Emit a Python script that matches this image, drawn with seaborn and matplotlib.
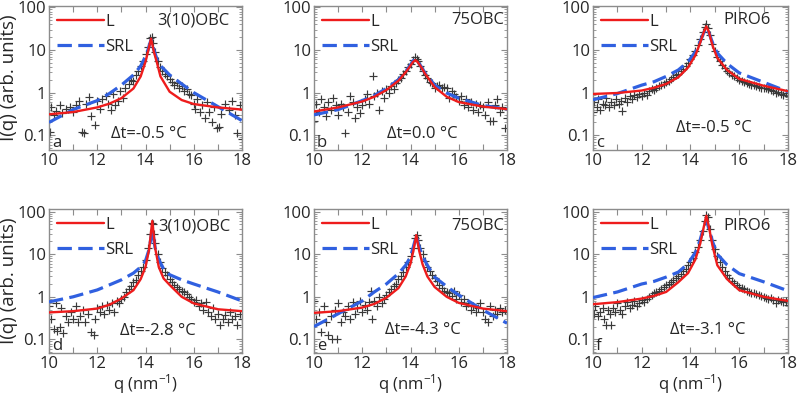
import matplotlib
matplotlib.use('Agg')
import matplotlib.pyplot as plt
import matplotlib.ticker as mticker
import seaborn as sns

# ---- scattered data points ----
q_pts_a = [10.05, 10.1, 10.2, 10.3, 10.45, 10.55, 10.7, 10.85, 11.0, 11.1, 11.25, 11.35, 11.45, 11.55, 11.65,
           11.75, 11.9, 12.0, 12.1, 12.2, 12.35, 12.45, 12.55, 12.65, 12.75, 12.85, 12.95, 13.05, 13.15, 13.3,
           13.4, 13.5, 13.6, 13.7, 13.8, 13.9, 14.0, 14.1, 14.2, 14.25, 14.3, 14.4, 14.5, 14.6, 14.7, 14.8,
           14.9, 15.0, 15.1, 15.2, 15.3, 15.4, 15.5, 15.6, 15.7, 15.8, 15.9, 16.0, 16.05, 16.15, 16.25, 16.35,
           16.45, 16.55, 16.65, 16.75, 16.85, 16.95, 17.05, 17.15, 17.3, 17.45, 17.6, 17.7, 17.8, 17.9, 18.0]
I_pts_a = [0.12, 0.45, 0.3, 0.38, 0.5, 0.33, 0.42, 0.46, 0.36, 0.52, 0.62, 0.12, 0.11, 0.55, 0.8,
           0.28, 0.17, 0.65, 0.42, 0.72, 0.85, 0.55, 0.4, 0.95, 0.5, 0.62, 1.1, 0.75, 1.3, 1.6,
           2.0, 1.9, 2.6, 3.2, 4.2, 5.5, 8.0, 12.0, 19.0, 20.0, 15.0, 9.0, 5.5, 4.0, 3.2, 2.8,
           2.4, 2.1, 1.8, 1.5, 1.7, 1.3, 1.4, 1.1, 1.2, 0.95, 0.9, 0.55, 0.42, 0.7, 0.35, 0.5,
           0.25, 0.6, 0.35, 0.2, 0.45, 0.15, 0.16, 0.32, 0.55, 0.4, 0.65, 0.3, 0.11, 0.5, 0.08]

q_pts_b = [10.0, 10.1, 10.2, 10.3, 10.4, 10.5, 10.6, 10.7, 10.8, 10.9, 11.0, 11.1, 11.2, 11.3, 11.4, 11.5,
           11.6, 11.7, 11.8, 11.9, 12.0, 12.1, 12.2, 12.3, 12.45, 12.5, 12.6, 12.7, 12.8, 12.9, 13.0, 13.1,
           13.2, 13.3, 13.4, 13.5, 13.6, 13.7, 13.8, 13.9, 14.0, 14.1, 14.2, 14.25, 14.3, 14.4, 14.5, 14.6,
           14.7, 14.8, 14.9, 15.0, 15.1, 15.2, 15.3, 15.4, 15.5, 15.6, 15.7, 15.8, 15.9, 16.0, 16.1, 16.2,
           16.3, 16.4, 16.5, 16.6, 16.7, 16.8, 16.9, 17.0, 17.1, 17.2, 17.3, 17.4, 17.5, 17.6, 17.7, 17.8,
           17.9, 18.0]
I_pts_b = [0.22, 0.55, 0.35, 0.7, 0.45, 0.28, 0.6, 0.4, 0.75, 0.5, 0.3, 0.55, 0.45, 0.11, 0.35, 0.85,
           0.6, 0.25, 0.45, 0.33, 0.5, 0.7, 0.95, 0.55, 2.4, 0.85, 1.0, 0.4, 1.1, 0.75, 1.2, 1.0,
           1.4, 1.2, 1.7, 2.0, 2.2, 2.8, 3.3, 4.0, 4.8, 5.8, 6.8, 6.2, 5.5, 4.2, 3.3, 2.6,
           2.2, 1.8, 1.7, 1.3, 1.4, 1.5, 1.3, 1.35, 1.25, 0.75, 1.1, 0.95, 0.8, 0.65, 0.85, 0.5,
           0.7, 0.45, 0.6, 0.4, 0.55, 0.35, 0.5, 0.45, 0.3, 0.6, 0.22, 0.22, 0.5, 0.7, 0.35, 0.45,
           0.15, 0.25]

q_pts_c = [10.0, 10.05, 10.15, 10.2, 10.3, 10.4, 10.5, 10.55, 10.65, 10.75, 10.85, 10.95, 11.05, 11.15, 11.2,
           11.3, 11.4, 11.5, 11.6, 11.7, 11.8, 11.9, 12.0, 12.1, 12.2, 12.3, 12.4, 12.5, 12.6, 12.7,
           12.8, 12.9, 13.0, 13.1, 13.2, 13.3, 13.4, 13.5, 13.6, 13.7, 13.8, 13.9, 14.0, 14.1, 14.2,
           14.3, 14.4, 14.5, 14.6, 14.65, 14.7, 14.8, 14.9, 15.0, 15.1, 15.2, 15.3, 15.4, 15.5, 15.6,
           15.7, 15.8, 15.9, 16.0, 16.1, 16.2, 16.3, 16.4, 16.5, 16.6, 16.7, 16.8, 16.9, 17.0, 17.1,
           17.2, 17.3, 17.4, 17.5, 17.6, 17.7, 17.8, 17.9, 18.0]
I_pts_c = [0.35, 0.6, 0.45, 0.7, 0.4, 0.55, 0.5, 0.75, 0.45, 0.6, 0.5, 0.7, 0.55, 0.65, 0.38,
           0.75, 0.6, 0.85, 0.7, 0.9, 0.8, 0.95, 0.85, 1.0, 0.9, 1.1, 1.2, 1.15, 1.3, 1.4,
           1.5, 1.6, 1.8, 1.9, 2.1, 2.3, 2.6, 2.8, 3.2, 3.6, 4.2, 5.0, 6.0, 7.5, 9.5,
           13.0, 18.0, 26.0, 35.0, 40.0, 33.0, 22.0, 14.0, 9.5, 7.0, 5.5, 4.5, 3.8, 3.3, 2.9,
           2.6, 2.4, 2.2, 2.0, 1.9, 1.8, 1.7, 1.6, 1.55, 1.5, 1.4, 1.35, 1.3, 1.25, 1.3,
           1.2, 1.15, 1.1, 1.0, 1.05, 0.95, 0.9, 1.0, 0.85]

q_pts_d = [10.0, 10.1, 10.2, 10.3, 10.35, 10.45, 10.5, 10.6, 10.7, 10.8, 10.9, 11.0, 11.1, 11.2, 11.3,
           11.4, 11.5, 11.6, 11.75, 11.85, 11.9, 12.0, 12.1, 12.2, 12.3, 12.4, 12.5, 12.6, 12.7, 12.8,
           12.9, 13.0, 13.1, 13.2, 13.3, 13.4, 13.5, 13.6, 13.7, 13.8, 13.9, 14.0, 14.1, 14.2, 14.25,
           14.3, 14.35, 14.4, 14.5, 14.6, 14.7, 14.8, 14.9, 15.0, 15.1, 15.2, 15.3, 15.4, 15.5, 15.6,
           15.7, 15.8, 15.9, 16.0, 16.1, 16.2, 16.3, 16.4, 16.5, 16.6, 16.7, 16.8, 16.9, 17.0, 17.1,
           17.2, 17.3, 17.4, 17.5, 17.6, 17.7, 17.8, 17.9, 18.0]
I_pts_d = [0.6, 0.3, 0.18, 0.7, 0.16, 0.2, 0.55, 0.14, 0.35, 0.25, 0.45, 0.3, 0.6, 0.25, 0.35,
           0.5, 0.25, 0.4, 0.15, 0.13, 0.3, 0.55, 0.45, 0.6, 0.4, 0.65, 0.5, 0.7, 0.45, 0.8,
           0.7, 0.9, 1.0, 1.3, 1.5, 1.8, 2.2, 2.5, 3.2, 4.0, 5.0, 7.5, 14.0, 30.0, 55.0,
           50.0, 30.0, 18.0, 10.0, 6.5, 4.8, 3.8, 3.2, 2.6, 2.2, 1.9, 1.7, 1.5, 1.4, 1.3,
           1.15, 1.0, 0.9, 0.75, 0.85, 0.6, 0.7, 0.5, 0.75, 0.45, 0.35, 0.55, 0.3, 0.4, 0.22,
           0.3, 0.38, 0.25, 0.45, 0.3, 0.35, 0.22, 0.4, 0.3]

q_pts_e = [10.0, 10.1, 10.2, 10.3, 10.4, 10.5, 10.6, 10.7, 10.75, 10.85, 10.95, 11.0, 11.1, 11.2, 11.3,
           11.4, 11.5, 11.6, 11.7, 11.8, 11.9, 12.0, 12.1, 12.2, 12.3, 12.35, 12.4, 12.5, 12.6, 12.7,
           12.8, 12.9, 13.0, 13.1, 13.2, 13.3, 13.4, 13.5, 13.6, 13.7, 13.8, 13.9, 14.0, 14.1, 14.2,
           14.25, 14.3, 14.4, 14.5, 14.6, 14.7, 14.8, 14.9, 15.0, 15.1, 15.2, 15.3, 15.4, 15.5, 15.6,
           15.7, 15.8, 15.9, 16.0, 16.1, 16.2, 16.3, 16.4, 16.5, 16.6, 16.7, 16.8, 16.9, 17.0, 17.1,
           17.2, 17.3, 17.4, 17.5, 17.6, 17.7, 17.8, 17.9, 18.0]
I_pts_e = [0.8, 0.3, 0.45, 0.15, 0.6, 0.25, 0.13, 0.35, 0.1, 0.5, 0.1, 0.7, 0.25, 0.45, 0.35,
           0.6, 0.3, 0.75, 0.4, 0.55, 0.8, 0.45, 0.65, 0.5, 0.75, 1.4, 0.3, 0.8, 0.6, 1.0,
           0.7, 0.9, 1.1, 1.3, 1.5, 1.8, 2.0, 2.6, 3.0, 3.8, 5.0, 6.5, 9.0, 14.0, 24.0,
           28.0, 22.0, 14.0, 10.0, 7.0, 5.0, 4.0, 3.3, 2.8, 2.3, 1.9, 1.6, 1.4, 1.3, 1.2,
           1.05, 1.4, 0.9, 1.1, 0.75, 0.9, 0.6, 0.7, 0.5, 0.6, 0.45, 0.55, 0.7, 0.45, 0.3,
           0.25, 0.6, 0.35, 0.5, 0.4, 0.55, 0.45, 0.5, 0.45]

q_pts_f = [10.0, 10.05, 10.1, 10.2, 10.3, 10.4, 10.45, 10.55, 10.6, 10.7, 10.75, 10.8, 10.9, 11.0, 11.1,
           11.2, 11.3, 11.4, 11.5, 11.6, 11.7, 11.8, 11.9, 12.0, 12.1, 12.2, 12.3, 12.4, 12.5, 12.6,
           12.7, 12.8, 12.9, 13.0, 13.1, 13.2, 13.3, 13.4, 13.5, 13.6, 13.7, 13.8, 13.9, 14.0, 14.1,
           14.2, 14.3, 14.4, 14.5, 14.6, 14.65, 14.7, 14.8, 14.9, 15.0, 15.1, 15.2, 15.3, 15.4, 15.5,
           15.6, 15.7, 15.8, 15.9, 16.0, 16.1, 16.2, 16.3, 16.4, 16.5, 16.6, 16.7, 16.8, 16.9, 17.0,
           17.1, 17.2, 17.3, 17.4, 17.5, 17.6, 17.7, 17.8, 17.9, 18.0]
I_pts_f = [0.5, 0.4, 0.6, 0.35, 0.45, 0.55, 0.3, 0.22, 0.5, 0.4, 0.22, 0.55, 0.45, 0.7, 0.5,
           0.4, 0.6, 0.75, 0.55, 0.65, 0.8, 0.6, 0.7, 0.85, 0.75, 0.9, 1.0, 1.1, 1.2, 1.3,
           1.4, 1.55, 1.7, 1.85, 2.0, 2.2, 2.5, 2.8, 3.1, 3.5, 4.0, 4.6, 5.5, 6.5, 8.0,
           11.0, 15.0, 22.0, 35.0, 60.0, 85.0, 75.0, 40.0, 22.0, 13.0, 9.0, 6.5, 5.0, 4.0, 3.3,
           2.8, 2.4, 2.1, 1.9, 1.7, 1.6, 1.5, 1.4, 1.3, 1.25, 1.2, 1.15, 1.1, 1.05, 1.0,
           0.95, 0.9, 0.95, 0.85, 0.7, 0.85, 0.8, 0.75, 0.8, 0.65]

# ---- fitted curves L (Lorentzian) and SRL ----
q_fit_a = [10, 11, 12, 12.5, 13, 13.5, 13.8, 14.0, 14.1, 14.23, 14.35, 14.48, 14.62, 15.0, 15.5, 16, 17, 18]
L_a = [0.31, 0.35, 0.45, 0.55, 0.74, 1.25, 2.4, 5.3, 9.0, 18.5, 9.0, 4.9, 2.4, 1.05, 0.67, 0.54, 0.45, 0.4]
SRL_a = [0.2, 0.4, 0.65, 0.95, 1.5, 2.6, 4.2, 7.0, 10.0, 17.5, 10.0, 6.0, 4.3, 2.6, 1.6, 1.0, 0.47, 0.22]

q_fit_b = [10, 11, 12, 12.5, 13, 13.5, 13.8, 14.0, 14.1, 14.2, 14.3, 14.45, 14.6, 15.0, 15.5, 16, 17, 18]
L_b = [0.36, 0.45, 0.62, 0.8, 1.15, 1.9, 3.0, 4.3, 5.2, 5.8, 5.2, 3.9, 2.8, 1.35, 0.8, 0.6, 0.47, 0.41]
SRL_b = [0.3, 0.4, 0.65, 0.85, 1.25, 2.0, 3.1, 4.5, 5.5, 6.3, 5.4, 4.0, 2.9, 1.5, 0.98, 0.74, 0.5, 0.41]

q_fit_c = [10, 11, 12, 12.5, 13, 13.5, 13.9, 14.2, 14.4, 14.55, 14.65, 14.75, 14.9, 15.1, 15.5, 16, 17, 18]
L_c = [0.93, 0.98, 1.12, 1.3, 1.6, 2.3, 3.9, 7.5, 15, 27, 36, 27, 13, 6.5, 3.4, 2.1, 1.45, 1.08]
SRL_c = [0.68, 0.95, 1.5, 1.8, 2.4, 3.4, 5.3, 9.0, 16, 26, 33, 26, 15, 8.5, 4.8, 2.9, 1.75, 1.05]

q_fit_d = [10, 11, 12, 12.5, 13, 13.5, 13.8, 14.0, 14.15, 14.28, 14.4, 14.55, 14.75, 15.0, 15.5, 16, 17, 18]
L_d = [0.43, 0.46, 0.53, 0.65, 0.91, 1.43, 2.6, 5.0, 13, 60, 14, 5.0, 2.7, 1.9, 1.0, 0.7, 0.51, 0.46]
SRL_d = [0.76, 1.0, 1.45, 1.9, 2.5, 3.6, 5.0, 7.0, 13, 38, 14, 7.5, 4.5, 3.3, 2.5, 2.0, 1.3, 0.8]

q_fit_e = [10, 11, 12, 12.5, 13, 13.5, 13.8, 14.0, 14.12, 14.24, 14.36, 14.5, 14.7, 15.0, 15.5, 16, 17, 18]
L_e = [0.42, 0.46, 0.56, 0.68, 0.95, 1.6, 3.0, 6.0, 12, 28, 12, 5.8, 3.0, 1.7, 1.0, 0.72, 0.53, 0.46]
SRL_e = [0.2, 0.4, 0.8, 1.3, 2.0, 3.5, 5.5, 8.7, 15, 27, 15, 9.0, 5.5, 2.9, 1.75, 1.1, 0.49, 0.24]

q_fit_f = [10, 11, 12, 12.5, 13, 13.5, 13.9, 14.2, 14.4, 14.55, 14.65, 14.75, 14.9, 15.1, 15.5, 16, 17, 18]
L_f = [0.67, 0.75, 0.91, 1.05, 1.3, 2.2, 3.6, 7.5, 18, 45, 80, 45, 16, 5.5, 2.6, 1.43, 1.0, 0.8]
SRL_f = [0.96, 1.3, 2.0, 2.3, 2.9, 3.8, 6.0, 11, 22, 45, 65, 40, 20, 10, 5.6, 3.5, 2.25, 1.38]

samples = ["3(10)OBC", "75OBC", "PIRO6", "3(10)OBC", "75OBC", "PIRO6"]
delta_t = ["\u0394t=-0.5 \u00b0C", "\u0394t=0.0 \u00b0C", "\u0394t=-0.5 \u00b0C",
           "\u0394t=-2.8 \u00b0C", "\u0394t=-4.3 \u00b0C", "\u0394t=-3.1 \u00b0C"]
letters = ["a", "b", "c", "d", "e", "f"]

FS = 12
sns.set_style("ticks")
plt.rcParams['font.family'] = ['Open Sans', 'DejaVu Sans']
plt.rcParams['font.size'] = FS
plt.rcParams['mathtext.fontset'] = 'custom'
plt.rcParams['mathtext.rm'] = 'Open Sans'
plt.rcParams['mathtext.it'] = 'Open Sans'

fig = plt.figure(figsize=(7.99, 3.97), dpi=100)

W, H = 799, 397
# axes boxes in pixels: left, top, width, height
boxes = [(49, 6, 193, 144), (314, 6, 193, 144), (593, 6, 195, 144),
         (49, 209, 193, 144), (314, 209, 193, 144), (593, 209, 195, 144)]
ylims = [(0.045, 108)] * 3 + [(0.048, 115)] * 3
name_x = [0.75, 0.85, 0.79, 0.755, 0.85, 0.79]
name_y = [0.90, 0.90, 0.90, 0.88, 0.88, 0.88]
dt_x = [0.52, 0.56, 0.62, 0.565, 0.565, 0.59]
dt_y = [0.11, 0.11, 0.15, 0.15, 0.16, 0.16]

panels = [
    (q_pts_a, I_pts_a, q_fit_a, L_a, SRL_a),
    (q_pts_b, I_pts_b, q_fit_b, L_b, SRL_b),
    (q_pts_c, I_pts_c, q_fit_c, L_c, SRL_c),
    (q_pts_d, I_pts_d, q_fit_d, L_d, SRL_d),
    (q_pts_e, I_pts_e, q_fit_e, L_e, SRL_e),
    (q_pts_f, I_pts_f, q_fit_f, L_f, SRL_f),
]

for i, (qp, Ip, qf, Lf, Sf) in enumerate(panels):
    l, t, w, h = boxes[i]
    ax = fig.add_axes([l / W, 1 - (t + h) / H, w / W, h / H])

    sns.scatterplot(x=qp, y=Ip, marker='+', color='#3a3a3a', s=32, linewidth=0.85, ax=ax, zorder=2)
    sns.lineplot(x=qf, y=Sf, color='#3060e0', linewidth=2.3, linestyle=(0, (4.5, 2)),
                 ax=ax, label='SRL', zorder=3, sort=False)
    sns.lineplot(x=qf, y=Lf, color='#ee1c1c', linewidth=1.7, ax=ax, label='L', zorder=4, sort=False)

    ax.set_yscale('log')
    ax.set_xlim(10, 18)
    ax.set_ylim(*ylims[i])
    ax.set_xticks([10, 12, 14, 16, 18])
    ax.xaxis.set_minor_locator(mticker.FixedLocator([11, 13, 15, 17]))
    ax.set_yticks([0.1, 1, 10, 100])
    ax.yaxis.set_major_formatter(mticker.FixedFormatter(["0.1", "1", "10", "100"]))
    ax.yaxis.set_minor_locator(mticker.LogLocator(base=10, subs=range(2, 10)))
    ax.yaxis.set_minor_formatter(mticker.NullFormatter())

    ax.tick_params(which='both', direction='in', top=True, right=True, color='#8c8c8c',
                   labelsize=FS, pad=2)
    ax.tick_params(which='major', length=4, width=0.8)
    ax.tick_params(which='minor', length=2, width=0.6)
    ax.tick_params(axis='x', which='minor', length=4, width=0.8)
    for sp in ax.spines.values():
        sp.set_color('#8c8c8c')
        sp.set_linewidth(1.0)

    handles, labels = ax.get_legend_handles_labels()
    ax.legend([handles[1], handles[0]], [labels[1], labels[0]], loc='upper left',
              frameon=False, fontsize=FS, handlelength=2.8, handletextpad=0.1,
              labelspacing=0.52, borderaxespad=0.1, borderpad=0.38)

    ax.text(name_x[i], name_y[i], samples[i], transform=ax.transAxes,
            ha='center', va='center', fontsize=FS)
    ax.text(dt_x[i], dt_y[i], delta_t[i], transform=ax.transAxes,
            ha='center', va='center', fontsize=FS)
    ax.text(0.015, 0.05, letters[i], transform=ax.transAxes,
            ha='left', va='center', fontsize=FS)

    ax.set_xlabel("")
    ax.set_ylabel("")
    if i in (0, 3):
        ax.set_ylabel("I(q) (arb. units)", fontsize=13.5, labelpad=0)
    if i >= 3:
        ax.set_xlabel("q (nm$^{-1}$)", fontsize=FS, labelpad=0)

fig.savefig("out.png", dpi=100)
plt.close(fig)
